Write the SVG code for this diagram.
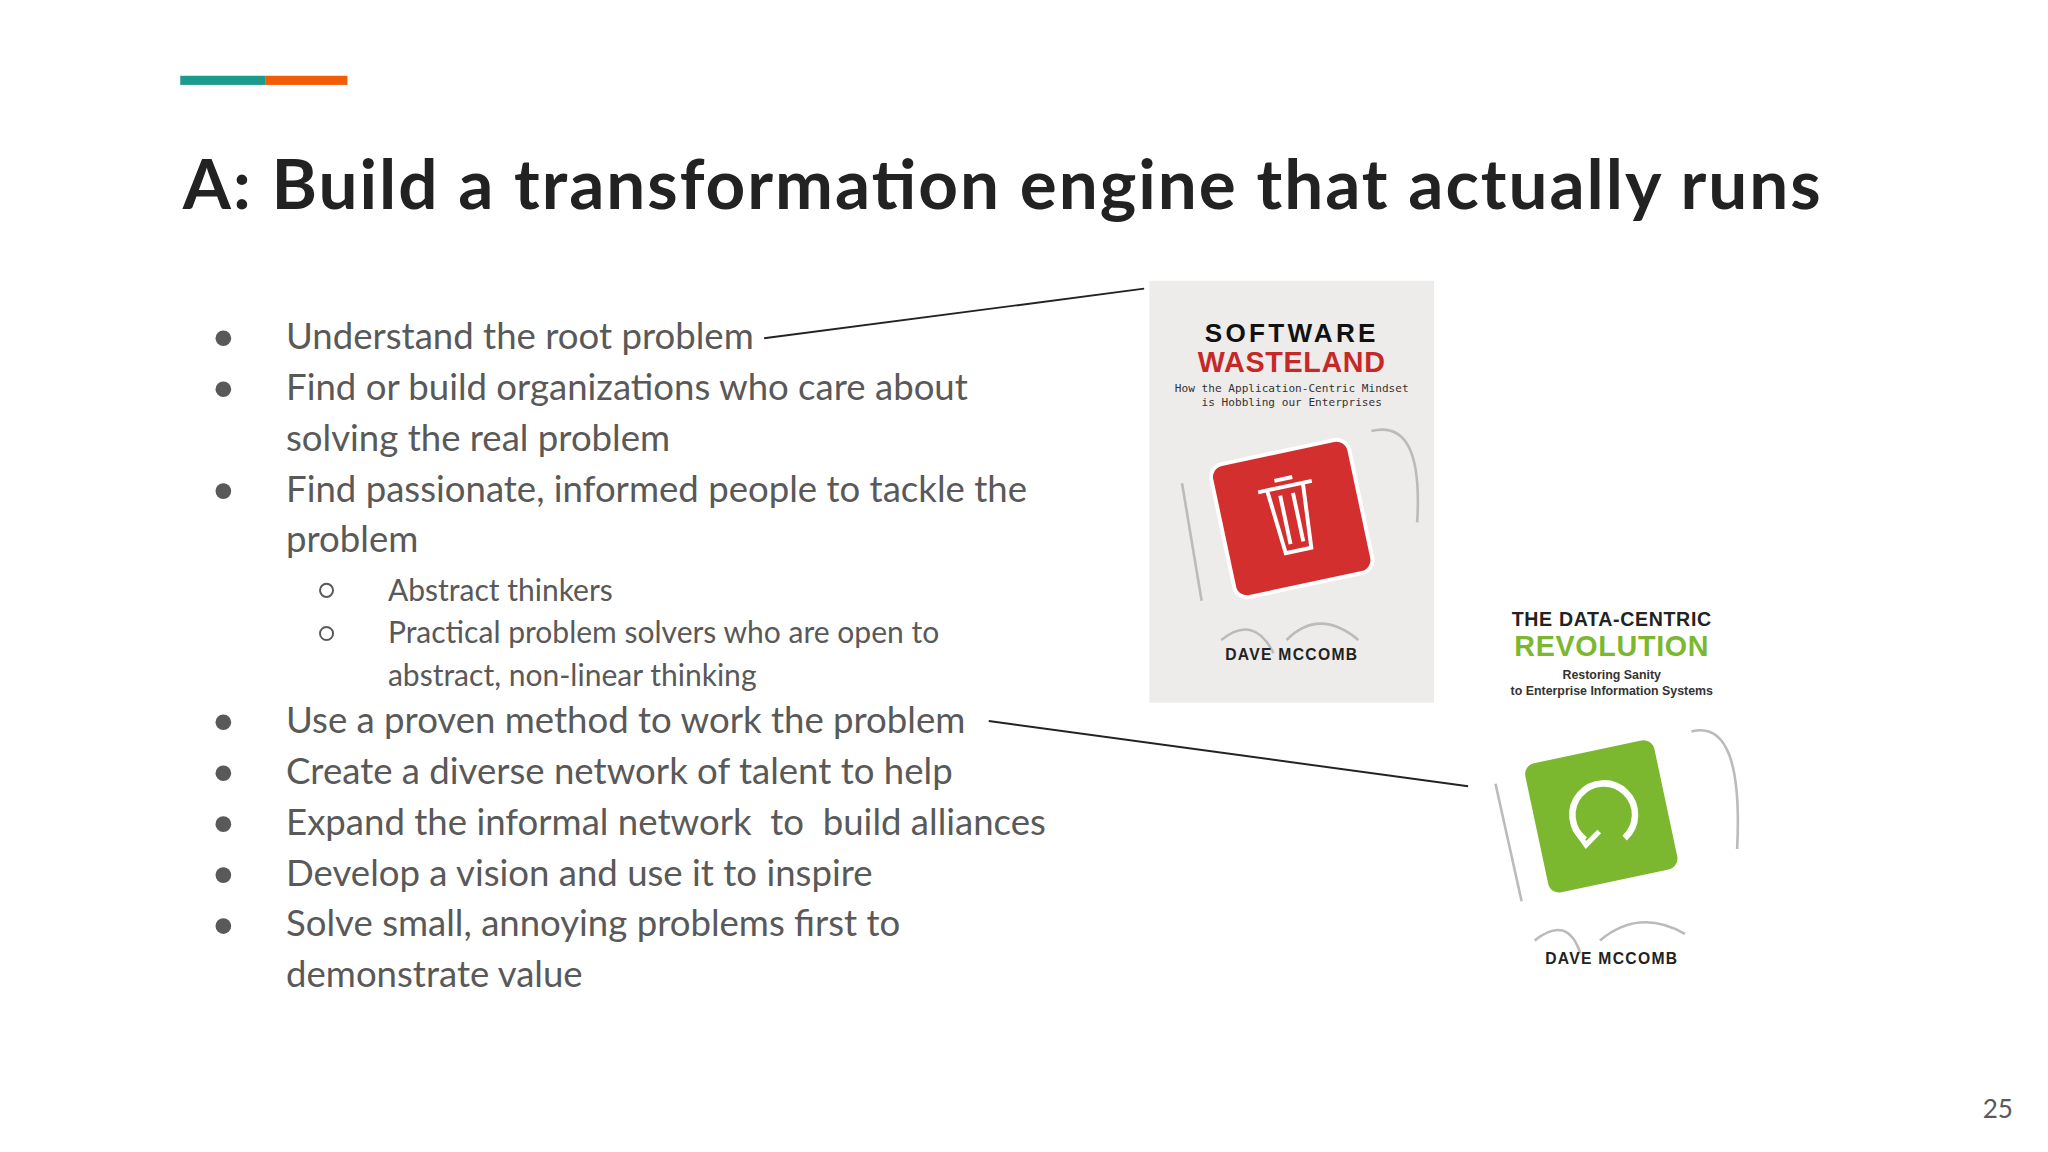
<svg xmlns="http://www.w3.org/2000/svg" width="2048" height="1152" viewBox="0 0 2048 1152">
<style>
.b{font-family:Lato,"Open Sans",sans-serif;font-size:28px;fill:#595959}
.s{font-family:Lato,"Open Sans",sans-serif;font-size:23px;fill:#595959}
.dot{fill:#595959}
.cv{font-family:"Liberation Sans",Arial,sans-serif;font-weight:bold;text-anchor:middle}
.mono{font-family:"DejaVu Sans Mono",monospace;font-size:8.5px;text-anchor:middle;fill:#333}
.conn{stroke:#222;stroke-width:1.5;fill:none}
.key{fill:none;stroke:#bbb;stroke-width:2}
</style>
<rect width="2048" height="1152" fill="#fff"/>
<g transform="scale(1.30612)">
<g id="accent"><rect x="138" y="58" width="65" height="7" fill="#1c9a8c"/><rect x="203" y="58" width="63" height="7" fill="#f25c05"/></g>
<g id="title"><text x="140" y="160" font-family="Lato,'Open Sans',sans-serif" font-weight="bold" font-size="53" fill="#222" textLength="1254" lengthAdjust="spacing">A: Build a transformation engine that actually runs</text></g>
<g id="bullets">
<circle class="dot" cx="171" cy="259" r="6"/><text class="b" x="219" y="267">Understand the root problem</text>
<circle class="dot" cx="171" cy="298" r="6"/><text class="b" x="219" y="306">Find or build organizations who care about</text>
<text class="b" x="219" y="345">solving the real problem</text>
<circle class="dot" cx="171" cy="376" r="6"/><text class="b" x="219" y="384">Find passionate, informed people to tackle the</text>
<text class="b" x="219" y="423">problem</text>
<circle cx="250" cy="452" r="5" fill="none" stroke="#595959" stroke-width="1.5"/><text class="s" x="297" y="460">Abstract thinkers</text>
<circle cx="250" cy="485" r="5" fill="none" stroke="#595959" stroke-width="1.5"/><text class="s" x="297" y="492">Practical problem solvers who are open to</text>
<text class="s" x="297" y="525">abstract, non-linear thinking</text>
<circle class="dot" cx="171" cy="553" r="6"/><text class="b" x="219" y="561">Use a proven method to work the problem</text>
<circle class="dot" cx="171" cy="592" r="6"/><text class="b" x="219" y="600">Create a diverse network of talent to help</text>
<circle class="dot" cx="171" cy="631" r="6"/><text class="b" x="219" y="639" xml:space="preserve">Expand the informal network  to  build alliances</text>
<circle class="dot" cx="171" cy="670" r="6"/><text class="b" x="219" y="678">Develop a vision and use it to inspire</text>
<circle class="dot" cx="171" cy="709" r="6"/><text class="b" x="219" y="717">Solve small, annoying problems first to</text>
<text class="b" x="219" y="756">demonstrate value</text>
</g>
<g id="book1">
<rect x="880" y="215" width="218" height="323" fill="#eeeceb"/>
<text class="cv" x="989" y="262" font-size="20" fill="#111" letter-spacing="2.5">SOFTWARE</text>
<text class="cv" x="989" y="285" font-size="22" fill="#c62828" letter-spacing="0.5">WASTELAND</text>
<text class="mono" x="989" y="300">How the Application-Centric Mindset</text>
<text class="mono" x="989" y="311">is Hobbling our Enterprises</text>
<path class="key" d="M905 370 L920 460 M1050 330 Q1090 320 1085 400 M935 490 Q960 470 975 500 M985 490 Q1010 465 1040 490"/>
<g transform="rotate(-12 989 397)">
<rect x="935" y="345" width="108" height="104" rx="10" fill="#d32f2f" stroke="#fff" stroke-width="3"/>
<path d="M968 372 h42 M975 372 l4 50 h20 l4-50 M984 378 v38 M994 378 v38 M982 366 h14" stroke="#fff" stroke-width="3" fill="none"/>
</g>
<text class="cv" x="989" y="505" font-size="12" fill="#222" letter-spacing="1">DAVE MCCOMB</text>
</g>
<g id="book2">
<text class="cv" x="1234" y="479" font-size="15" fill="#222" letter-spacing="0.5">THE DATA-CENTRIC</text>
<text class="cv" x="1234" y="502" font-size="22" fill="#7cb82f" letter-spacing="0.5">REVOLUTION</text>
<text class="cv" x="1234" y="520" font-size="9.5" fill="#333">Restoring Sanity</text>
<text class="cv" x="1234" y="532" font-size="9.5" fill="#333">to Enterprise Information Systems</text>
<path class="key" d="M1145 600 L1165 690 M1295 560 Q1335 550 1330 650 M1175 720 Q1200 700 1210 730 M1225 720 Q1255 695 1290 715"/>
<g transform="rotate(-12 1226 625)">
<rect x="1174" y="573" width="104" height="104" rx="10" fill="#7cb82f" stroke="#fff" stroke-width="3"/>
<path d="M1210 640 A24 24 0 1 1 1240 645" stroke="#fff" stroke-width="5" fill="none"/>
<path d="M1204 630 l6 14 l12 -8" stroke="#fff" stroke-width="4" fill="none"/>
</g>
<text class="cv" x="1234" y="738" font-size="12" fill="#222" letter-spacing="1">DAVE MCCOMB</text>
</g>
<g id="connectors">
<line class="conn" x1="585" y1="259" x2="876" y2="221"/>
<line class="conn" x1="757" y1="552" x2="1124" y2="602"/>
</g>
<text x="1518" y="856" font-family="Lato,sans-serif" font-size="20" fill="#595959">25</text>
</g>
</svg>
